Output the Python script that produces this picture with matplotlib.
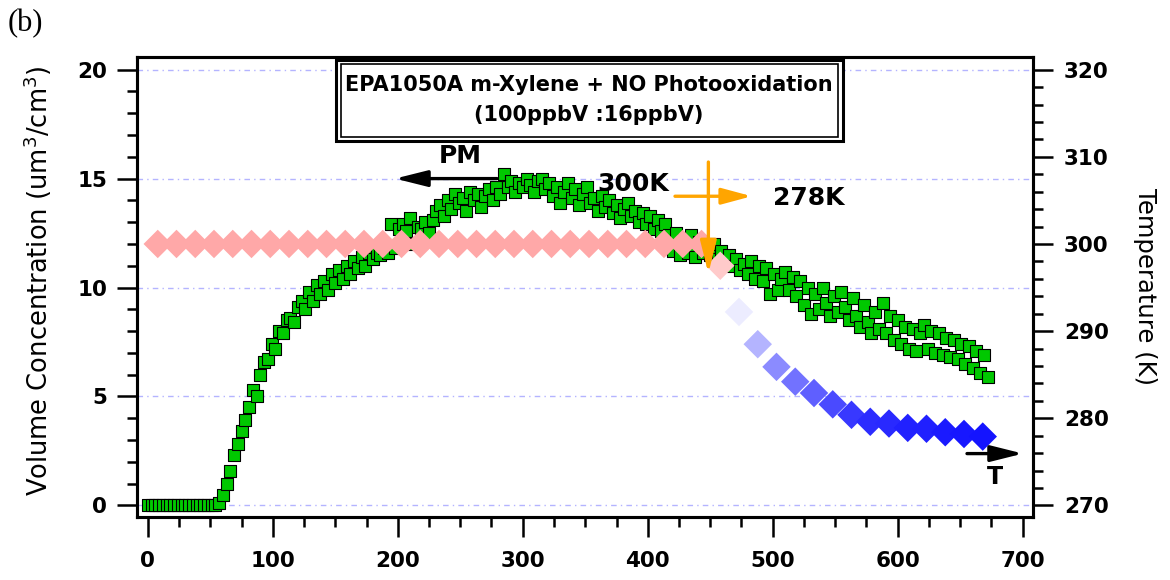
import numpy as np
import matplotlib
matplotlib.use('Agg')
import matplotlib.pyplot as plt
from matplotlib.colors import LinearSegmentedColormap, Normalize
from matplotlib.patches import Rectangle
from matplotlib.ticker import MultipleLocator

# ---------------- data ----------------
pm_time = list(range(0, 673, 3))
pm_volume = [
    0, 0, 0, 0, 0, 0, 0, 0, 0, 0,
    0, 0, 0, 0, 0, 0, 0, 0, 0, 0.1,
    0.5, 1.0, 1.6, 2.3, 2.8, 3.4, 3.9, 4.5, 5.3, 5.0,
    6.0, 6.6, 6.7, 7.4, 7.2, 8.0, 7.9, 8.5, 8.6, 8.4,
    9.1, 9.4, 9.0, 9.8, 9.4, 10.1, 9.7, 10.3, 9.9, 10.6,
    10.2, 10.8, 10.4, 11.0, 10.6, 11.2, 10.9, 11.4, 11.0, 11.6,
    11.3, 11.6, 11.5, 11.8, 11.6, 12.9, 11.8, 12.7, 12.9, 12.6,
    13.2, 12.0, 12.8, 12.7, 13.0, 12.5, 13.1, 13.5, 13.8, 13.3,
    14.0, 13.6, 14.3, 13.9, 14.1, 13.5, 14.4, 14.0, 14.3, 13.7,
    14.2, 14.5, 14.0, 14.6, 14.3, 15.2, 14.6, 14.9, 14.4, 14.8,
    14.6, 15.0, 14.7, 14.4, 14.9, 15.0, 14.5, 14.8, 14.2, 14.6,
    13.9, 14.4, 14.8, 14.1, 14.5, 13.8, 14.3, 14.6, 13.9, 14.1,
    13.5, 14.2, 13.7, 14.0, 13.4, 13.8, 13.2, 13.6, 13.9, 13.3,
    13.5, 13.0, 13.4, 12.9, 13.3, 12.7, 13.1, 12.6, 12.9, 12.4,
    11.7, 12.5, 11.5, 12.2, 11.6, 12.4, 11.4, 12.1, 11.6, 11.9,
    11.5, 12.0, 11.3, 11.7, 11.2, 11.5, 11.0, 11.3, 10.8, 11.1,
    10.6, 11.2, 10.4, 11.0, 10.3, 10.9, 9.7, 10.6, 9.9, 10.4,
    10.7, 9.9, 10.5, 9.6, 10.3, 9.2, 10.0, 8.8, 9.7, 9.0,
    10.0, 9.3, 8.7, 9.6, 8.9, 9.8, 9.1, 8.5, 9.5, 8.7,
    8.2, 9.2, 8.4, 7.9, 8.9, 8.1, 9.3, 7.9, 8.7, 7.6,
    8.5, 7.4, 8.2, 7.2, 8.1, 7.1, 7.9, 8.3, 7.2, 8.0,
    7.0, 7.9, 6.9, 7.7, 6.8, 7.6, 6.7, 7.4, 6.5, 7.3,
    6.3, 7.1, 6.1, 6.9, 5.9,
]

temp_time = [8, 23, 38, 53, 68, 83, 98, 113, 128, 143, 158, 173, 188, 203, 218,
             233, 248, 263, 278, 293, 308, 323, 338, 353, 368, 383, 398, 413, 428, 443,
             458, 473, 488, 503, 518, 533, 548, 563, 578, 593, 608, 623, 638, 653, 668]
temp_K = [300.0, 300.0, 300.0, 300.0, 300.0, 300.0, 300.0, 300.0, 300.0, 300.0,
          300.0, 300.0, 300.0, 300.0, 300.0, 300.0, 300.0, 300.0, 300.0, 300.0,
          300.0, 300.0, 300.0, 300.0, 300.0, 300.0, 300.0, 300.0, 300.0, 300.0,
          297.5, 292.2, 288.5, 285.9, 284.2, 282.9, 281.6, 280.4, 279.6, 279.4,
          278.9, 278.8, 278.4, 278.2, 277.9]

x_ticks = [0, 100, 200, 300, 400, 500, 600, 700]
vol_ticks = [0, 5, 10, 15, 20]
temp_ticks = [270, 280, 290, 300, 310, 320]

title_line1 = "EPA1050A m-Xylene + NO Photooxidation"
title_line2 = "(100ppbV :16ppbV)"

# ---------------- figure ----------------
W, H = 1170, 580
fig = plt.figure(figsize=(W / 100, H / 100), dpi=100)
L, R, T, B = 137, 1033, 57, 517
ax = fig.add_axes([L / W, 1 - B / H, (R - L) / W, (B - T) / H])
ax2 = ax.twinx()

ax.set_xlim(-8.6, 708.2)
ax.set_ylim(-0.53, 20.58)
ax2.set_ylim(270 + 2.5 * -0.53, 270 + 2.5 * 20.58)

tick_font = dict(family='DejaVu Sans', weight='bold', size=15.5)

ax.xaxis.set_major_locator(MultipleLocator(100))
ax.xaxis.set_minor_locator(MultipleLocator(25))
ax.yaxis.set_major_locator(MultipleLocator(5))
ax.yaxis.set_minor_locator(MultipleLocator(1))
ax2.yaxis.set_major_locator(MultipleLocator(10))
ax2.yaxis.set_minor_locator(MultipleLocator(2))
ax.set_xticks(x_ticks)
ax.set_yticks(vol_ticks)
ax2.set_yticks(temp_ticks)

for a in (ax, ax2):
    for s in a.spines.values():
        s.set_linewidth(2.2)
ax.tick_params(axis='both', which='major', direction='out', length=14.4, width=1.8,
               pad=7, top=False, right=False)
ax.tick_params(axis='both', which='minor', direction='out', length=7.2, width=1.8,
               top=False, right=False)
ax.tick_params(axis='x', which='major', pad=10)
ax2.tick_params(axis='y', which='major', direction='out', length=14.4, width=1.8, pad=8)
ax2.tick_params(axis='y', which='minor', direction='out', length=7.2, width=1.8)
for lab in ax.get_xticklabels() + ax.get_yticklabels() + ax2.get_yticklabels():
    lab.set_fontproperties(matplotlib.font_manager.FontProperties(**tick_font))

# grid
ax.set_axisbelow(True)
ax.yaxis.grid(True, which='major', color='#b4b4ff', lw=1.0, ls=(0, (4, 3, 1, 3)))

# PM data
ax.scatter(pm_time, pm_volume, marker='s', s=9.0 ** 2, facecolor='#00c800',
           edgecolor='black', linewidths=0.8, zorder=2)

# Temperature data
cmap = LinearSegmentedColormap.from_list(
    'temp', [(0.0, (0.08, 0.08, 1.0)), (15.5 / 22, (1.0, 1.0, 1.0)), (1.0, (1.0, 0.66, 0.66))])
norm = Normalize(278, 300)
ax2.scatter(temp_time, temp_K, c=temp_K, cmap=cmap, norm=norm, marker='D',
            s=14.5 ** 2, linewidths=0, zorder=3)

# annotations (drawn above all data, in volume coordinates)
tr = ax.transData
def arrow(x0, y0, x1, y1, color, lw, hl, hw, ms):
    ax2.annotate('', xy=(x1, y1), xytext=(x0, y0), xycoords=tr, textcoords=tr,
                 arrowprops=dict(arrowstyle=f'-|>,head_length={hl},head_width={hw}',
                                 color=color, lw=lw, shrinkA=0, shrinkB=0,
                                 mutation_scale=ms), zorder=6)

arrow(279.4, 15.0, 197.8, 15.0, 'black', 2.4, 1.4, 0.35, 14)
arrow(655.4, 2.38, 700.2, 2.38, 'black', 2.4, 1.4, 0.35, 14)
arrow(448.5, 15.76, 448.5, 10.65, '#ffa500', 2.4, 1.4, 0.35, 14)
arrow(421.8, 14.19, 483.2, 14.19, '#ffa500', 2.4, 1.3, 0.35, 14)

bold_txt = dict(family='DejaVu Sans', weight='bold', size=18, ha='center', va='center',
                transform=tr, zorder=7)
ax2.text(249.8, 16.03, 'PM', **bold_txt)
ax2.text(388.4, 14.74, '300K', **bold_txt)
ax2.text(528.6, 14.12, '278K', **bold_txt)
ax2.text(677.8, 1.32, 'T', **dict(bold_txt, size=17))

# title box (double border)
outer = Rectangle((335.5 / W, 1 - 141 / H), 507 / W, 81 / H, transform=fig.transFigure,
                  facecolor='white', edgecolor='black', lw=2.2, zorder=10)
inner = Rectangle((340.5 / W, 1 - 136.5 / H), 497 / W, 72 / H, transform=fig.transFigure,
                  facecolor='none', edgecolor='black', lw=1.2, zorder=11)
fig.add_artist(outer)
fig.add_artist(inner)
fig.text(589 / W, 1 - 85 / H, title_line1, ha='center', va='center', family='DejaVu Sans',
         weight='bold', size=15, zorder=12)
fig.text(589 / W, 1 - 115 / H, title_line2, ha='center', va='center', family='DejaVu Sans',
         weight='bold', size=15, zorder=12)

# axis labels
fig.text(38 / W, 1 - 281 / H, 'Volume Concentration (um$^{3}$/cm$^{3}$)', rotation=90,
         ha='center', va='center', family='DejaVu Sans', size=18.5)
fig.text(1145 / W, 1 - 287 / H, 'Temperature (K)', rotation=270,
         ha='center', va='center', family='DejaVu Sans', size=17.5)

# panel letter
fig.text(8 / W, 1 - 9 / H, '(b)', ha='left', va='top', family='Liberation Serif', size=22)

fig.savefig('out.png', dpi=100)
